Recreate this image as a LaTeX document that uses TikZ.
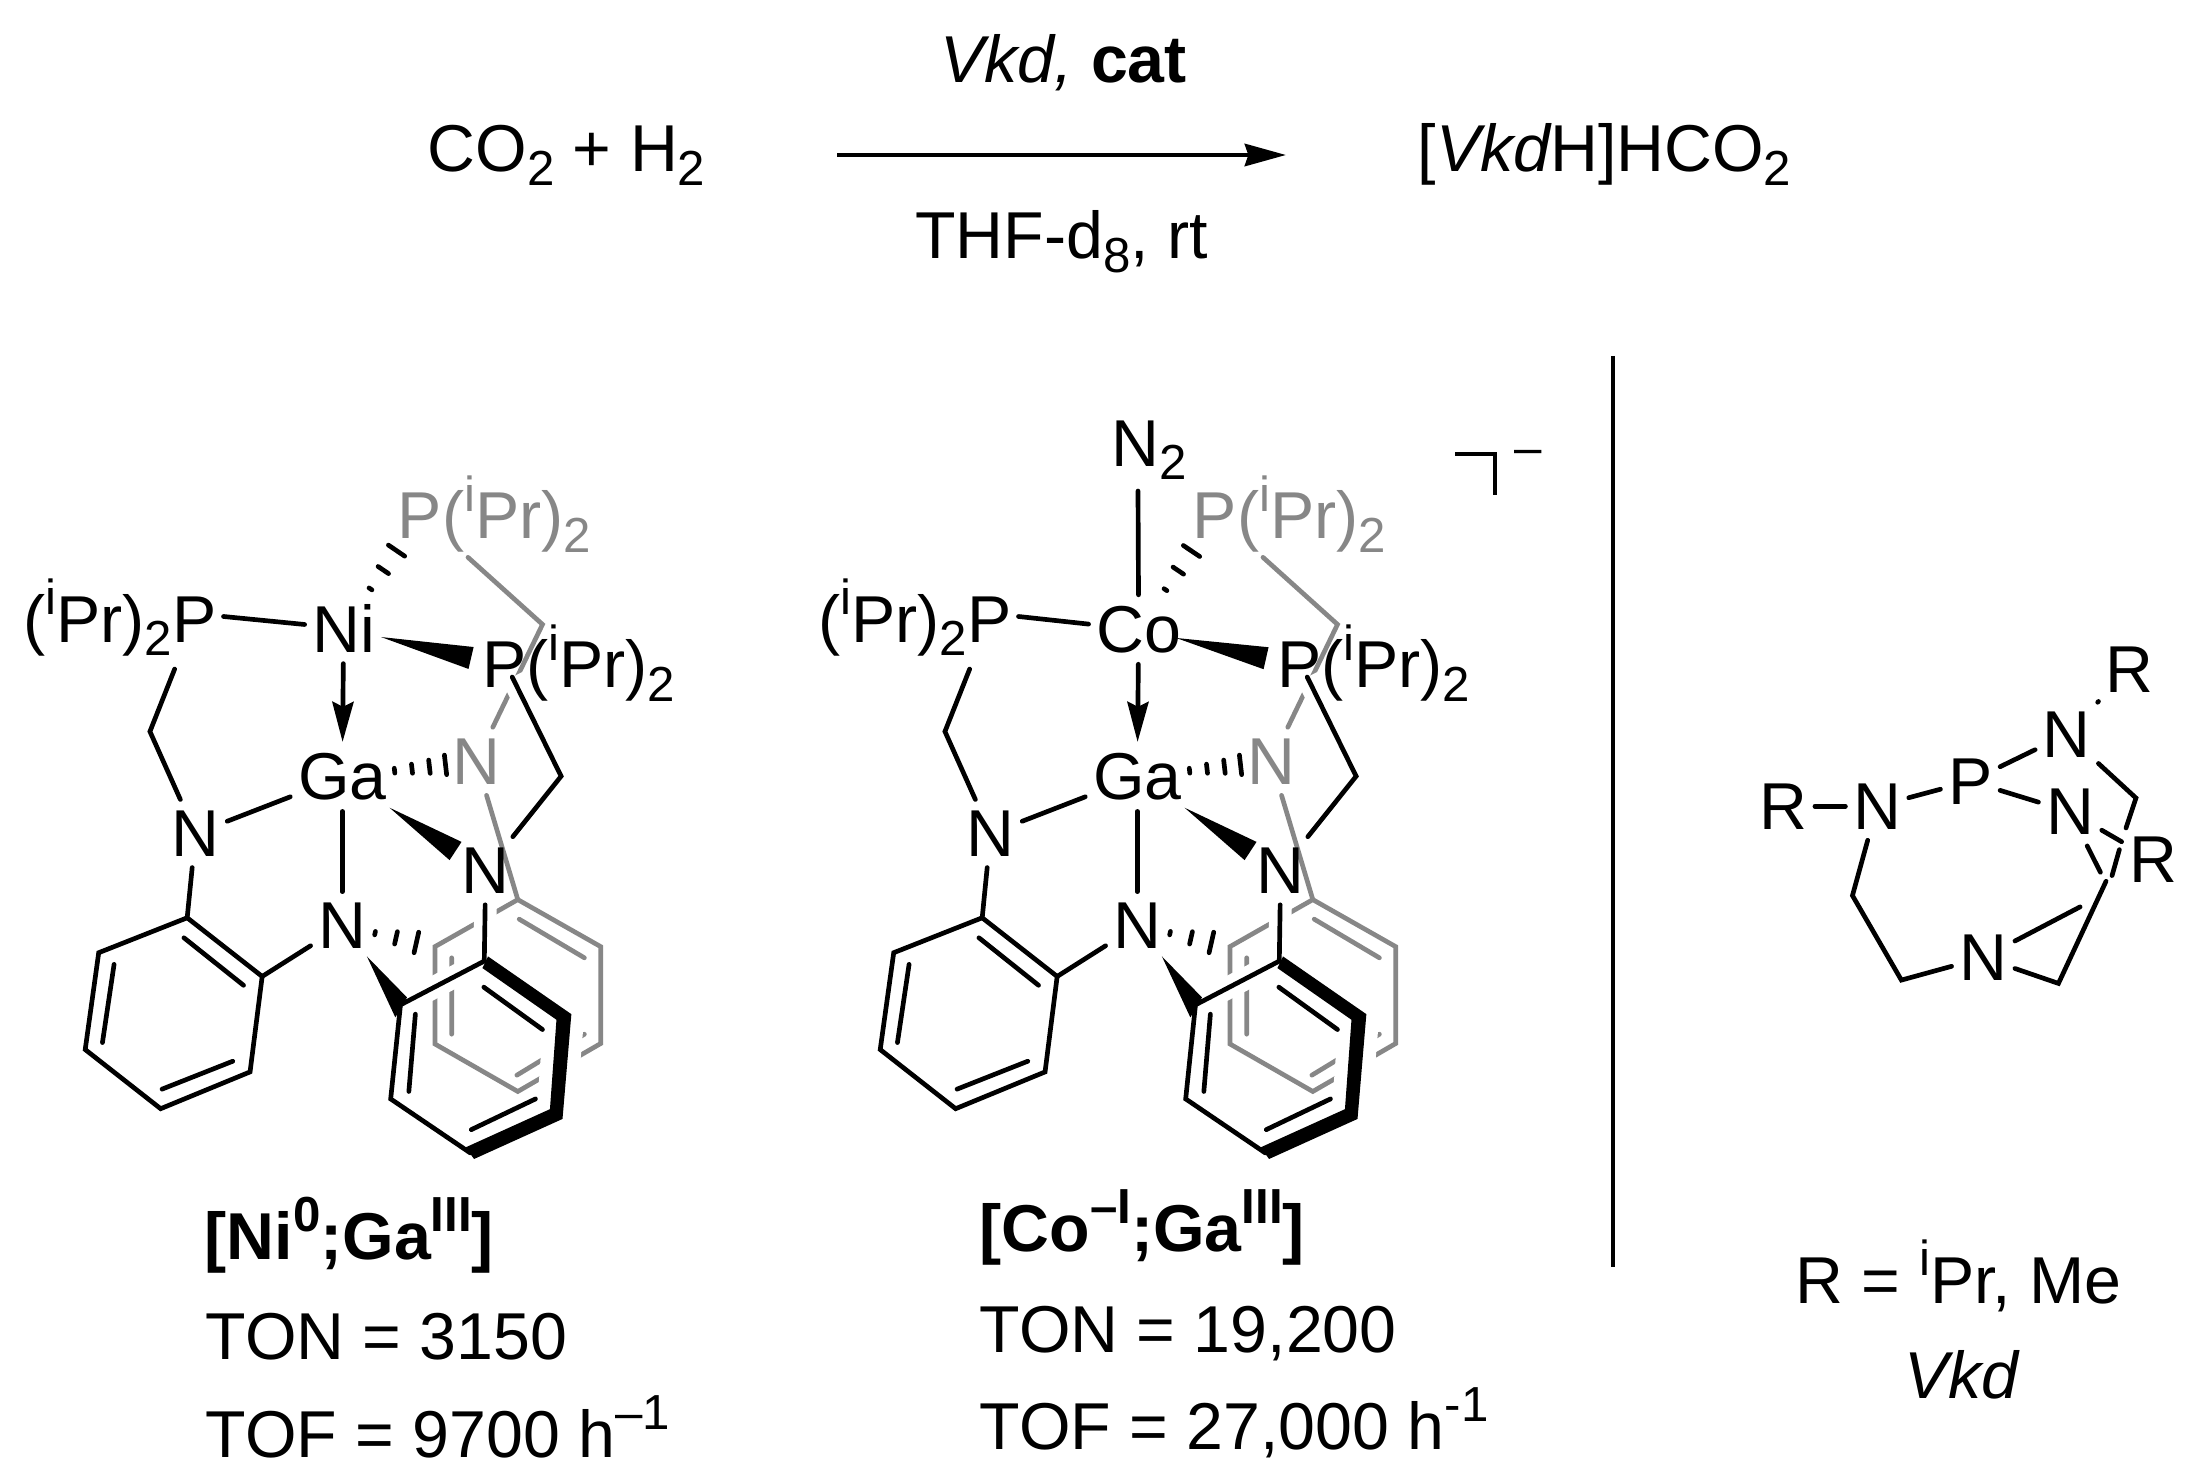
\documentclass[tikz,border=0pt]{standalone}
\usepackage{fontspec}
\setmainfont{Liberation Sans}
\usetikzlibrary{calc,arrows.meta}
\definecolor{gbond}{HTML}{878787}
\newcommand\sbs[1]{\raisebox{-3.9pt}{\fontsize{14}{14}\selectfont #1}}
\newcommand\sps[1]{\raisebox{7.8pt}{\fontsize{14}{14}\selectfont #1}}
\tikzset{
  txt/.style={font=\fontsize{18.85}{19}\selectfont,inner sep=0pt,anchor=base},
  atom/.style={txt,inner xsep=2pt,inner ysep=3pt},
  bond/.style={line width=1.33pt,line cap=round},
  gb/.style={line width=1.33pt,draw=gbond,line cap=round},
  halo/.style={line width=6.4pt,draw=white},
  halob/.style={line width=7.4pt,draw=white,line join=round},
}
% wedge: from A to B, tip at fraction #3, base at fraction #4, half width #5
\newcommand\wedgeb[5]{%
  \coordinate (wt) at ($(#1)!#3!(#2)$);
  \coordinate (wb) at ($(#1)!#4!(#2)$);
  \fill (wt) -- ($(wb)!#5!90:(#2)$) -- ($(wb)!#5!-90:(#2)$) -- cycle;}
% hashed bond: list of fraction/half-width
\newcommand\hashb[3]{%
  \foreach \f/\w in {#3} {
    \coordinate (hb) at ($(#1)!\f!(#2)$);
    \draw[bond] ($(hb)!\w pt!90:(#2)$) -- ($(hb)!\w pt!-90:(#2)$);
  }}
\newcommand\complexbody[3]{%
\begin{scope}[shift={(#1,460.5)},x=0.00465cm,y=-0.00465cm,name prefix=#2-]
  % vertices
  \coordinate (gPb) at (1005,208);
  \coordinate (gV) at (1165,352);
  \coordinate (g1) at (1112,943);
  \coordinate (g2) at (1290,1044);
  \coordinate (g3) at (1290,1252);
  \coordinate (g4) at (1112,1355);
  \coordinate (g5) at (934,1253);
  \coordinate (g6) at (934,1044);
  \coordinate (gi1) at (1115,985);
  \coordinate (gi2) at (1255,1068);
  \coordinate (gi3) at (1255,1232);
  \coordinate (gi4) at (1110,1320);
  \coordinate (gi5) at (970,1232);
  \coordinate (gi6) at (970,1068);
  \coordinate (LPe) at (480,335);
  \coordinate (LPs) at (375,448);
  \coordinate (c1) at (322,582);
  \coordinate (Pe) at (1100,465);
  \coordinate (Pa) at (1080,440);
  \coordinate (c2) at (1205,678);
  \coordinate (gPa) at (905,115);
  \coordinate (a1) at (402,982);
  \coordinate (a2) at (563,1108);
  \coordinate (a3) at (537,1313);
  \coordinate (a4) at (345,1392);
  \coordinate (a5) at (183,1265);
  \coordinate (a6) at (212,1057);
  \coordinate (ai1) at (395,1025);
  \coordinate (ai2) at (523,1127);
  \coordinate (ai3) at (500,1290);
  \coordinate (ai4) at (348,1350);
  \coordinate (ai5) at (220,1250);
  \coordinate (ai6) at (245,1082);
  \coordinate (r1) at (1040,1075);
  \coordinate (r4) at (1010,1487);
  \coordinate (r5) at (839,1371);
  \coordinate (r6) at (860,1169);
  \coordinate (o1) at (1048,1065);
  \coordinate (o2) at (1227,1189);
  \coordinate (o3) at (1208,1414);
  \coordinate (o4) at (1018,1500);
  \coordinate (n4) at (1000,1475);
  \coordinate (n3) at (1181,1393);
  \coordinate (n2) at (1195,1201);
  \coordinate (n1) at (1036,1090);
  \coordinate (ri1) at (1039,1131);
  \coordinate (ri2) at (1165,1222);
  \coordinate (ri3) at (1150,1371);
  \coordinate (ri4) at (1012,1437);
  \coordinate (ri5) at (878,1355);
  \coordinate (ri6) at (892,1189);
  \coordinate (w1) at (788,1065);
  \coordinate (w2) at (874,1153);
  \coordinate (w3) at (849,1196);
  % atom nodes
  \node[atom,text=gbond] (gP) at (853,168) [anchor=base west,inner sep=0pt] {P(\sps{i}Pr)\sbs{2}};
  \node[atom,text=gbond] (gN) at (1023,695) {N};
  % gray (rear) arm
  \draw[gb] (gPb) -- (gV) -- (gN);
  \draw[gb] (gN) -- (g1);
  \draw[gb] (g1) -- (g2) -- (g3) -- (g4) -- (g5) -- (g6) -- cycle;
  \draw[gb] (gi1) -- (gi2) (gi3) -- (gi4) (gi5) -- (gi6);
  % white halos of the front bonds
  \draw[halo] (Pe) -- (c2) -- (1092,808);
  \draw[halo] (1043,945) -- (r1) -- (r6);
  \draw[halo] (ri1) -- (ri2) (ri3) -- (ri4) (ri5) -- (ri6);
  \draw[halob] (o1) -- (o2) -- (o3) -- (o4) -- (n4) -- (n3) -- (n2) -- (n1) -- cycle;
  % metal and atoms
  \node[atom] (M) at (738,412) {#3};
  \node[atom] (Ga) at (735,728) {Ga};
  \node[atom] (NL) at (420,850) {N};
  \node[atom] (NB) at (735,1048) {N};
  \node[atom] (NR) at (1043,930) {N};
  \node[atom,anchor=base east,inner sep=0pt] (LP) at (466,390) {(\sps{i}Pr)\sbs{2}P};
  \node[atom,anchor=base west,inner sep=0pt] (RP) at (1034,488) {P(\sps{i}Pr)\sbs{2}};
  % bonds
  \draw[bond] (LPe) -- (M);
  \draw[bond] (LPs) -- (c1) -- (NL);
  \draw[bond] (NL) -- (Ga);
  \draw[bond] (NL) -- (a1);
  \draw[bond] (Ga) -- (NB);
  \draw[bond] (NB) -- (a2);
  \draw[bond,-{Stealth[length=11.4pt,width=6pt,inset=1.4pt]}] (M) -- (Ga);
  \draw[bond] (a1) -- (a2) -- (a3) -- (a4) -- (a5) -- (a6) -- cycle;
  \draw[bond] (ai1) -- (ai2) (ai3) -- (ai4) (ai5) -- (ai6);
  \draw[bond] (Pe) -- (c2) -- (NR);
  \draw[bond] (NR) -- (r1);
  \draw[bond] (r1) -- (r6) -- (r5) -- (r4);
  \draw[bond] (ri1) -- (ri2) (ri3) -- (ri4) (ri5) -- (ri6);
  \fill (o1) -- (o2) -- (o3) -- (o4) -- (n4) -- (n3) -- (n2) -- (n1) -- cycle;
  \fill (w1) -- (w2) -- (w3) -- cycle;
  \wedgeb{M}{Pa}{.235}{.8}{3.2pt}
  \wedgeb{Ga}{NR}{.33}{.79}{3.1pt}
  \hashb{M}{gPa}{.345/.5,.51/1.8,.68/2.8}
  \hashb{Ga}{gN}{.39/.7,.52/1.3,.65/1.9,.77/2.8}
  \hashb{NB}{g6}{.354/.5,.58/1.8,.8/3}
\end{scope}}
\begin{document}
\begin{tikzpicture}[x=0.01cm,y=-0.01cm]
\useasboundingbox (0,0) rectangle (2187,1479);
\fill[white] (0,0) rectangle (2187,1479);
% reaction
\node[txt,anchor=base west] (reac) at (427,172) {CO\sbs{2} + H\sbs{2}};
\node[txt,anchor=base west] (prod) at (1417,172) {[{\itshape Vkd}H]HCO\sbs{2}};
\node[txt] (above) at (1063.5,83) {{\itshape Vkd,} \textbf{cat}};
\node[txt] (below) at (1061.5,259) {THF-d\sbs{8}, rt};
\coordinate (arrL) at (837,155);
\coordinate (arrR) at (1286,155);
\draw[line width=1.33pt,-{Stealth[length=11.7pt,width=6.3pt,inset=1pt]}] (arrL) -- (arrR);
% divider
\coordinate (divT) at (1613,356);
\coordinate (divB) at (1613,1267);
\draw[line width=1.33pt] (divT) -- (divB);
% complexes
\complexbody{0}{ni}{Ni}
\complexbody{795}{co}{Co}
\node[txt,anchor=base west] (N2) at (1111,466) {N\sbs{2}};
\coordinate (N2e) at (1138,491);
\draw[bond] (N2e) -- (co-M);
\coordinate (brA) at (1455,454);
\coordinate (brB) at (1495,454);
\coordinate (brC) at (1495,495);
\draw[line width=1.33pt] (brA) -- (brB) -- (brC);
\node[txt,anchor=base west,font=\fontsize{14}{14}\selectfont] (chg) at (1514,464) {–};
% captions
\node[txt,anchor=base west] (n1) at (204,1259) {\textbf{[Ni\sps{0};Ga\sps{III}]}};
\node[txt,anchor=base west] (n2) at (205,1359) {TON = 3150};
\node[txt,anchor=base west] (n3) at (205,1457) {TOF = 9700 h\sps{–1}};
\node[txt,anchor=base west] (c1) at (979,1251) {\textbf{[Co\sps{–I};Ga\sps{III}]}};
\node[txt,anchor=base west] (c2) at (979,1352) {TON = 19,200};
\node[txt,anchor=base west] (c3) at (979,1449) {TOF = 27,000 h\sps{-1}};
\node[txt,anchor=base west] (v1) at (1795,1303) {R = \sps{i}Pr, Me};
\node[txt] (v2) at (1961.5,1398) {\itshape Vkd};
% Vkd
\begin{scope}[shift={(1720,620)},x=0.003333cm,y=-0.003333cm,name prefix=v-]
  \node[atom] (Rl) at (190,628) {R};
  \node[atom] (Nl) at (472,628) {N};
  \node[atom] (P) at (752,553) {P};
  \node[atom] (Nt) at (1042,412) {N};
  \node[atom] (Rt) at (1230,217) {R};
  \node[atom] (Nm) at (1052,645) {N};
  \node[atom] (Rr) at (1302,790) {R};
  \node[atom] (Nb) at (791,1083) {N};
  \coordinate (a) at (1250,535);
  \coordinate (a1) at (1220,625);
  \coordinate (a2) at (1200,690);
  \coordinate (a3) at (1178,768);
  \coordinate (b) at (398,828);
  \coordinate (c) at (545,1082);
  \coordinate (d) at (1017,1092);
  \coordinate (e1) at (1160,785);
  \coordinate (e2) at (1082,862);
  \coordinate (e3) at (1143,758);
  \draw[bond] (Rl) -- (Nl);
  \draw[bond] (Nl) -- (P);
  \draw[bond] (P) -- (Nt);
  \draw[bond] (P) -- (Nm);
  \draw[bond] (Nt) -- (Rt);
  \draw[bond] (Nt) -- (a) -- (a1);
  \draw[bond] (a2) -- (a3);
  \draw[bond] (Nm) -- (Rr);
  \draw[bond] (Nm) -- (e3);
  \draw[bond] (Nl) -- (b) -- (c) -- (Nb);
  \draw[bond] (Nb) -- (e2);
  \draw[bond] (Nb) -- (d) -- (e1);
\end{scope}
\end{tikzpicture}
\end{document}
